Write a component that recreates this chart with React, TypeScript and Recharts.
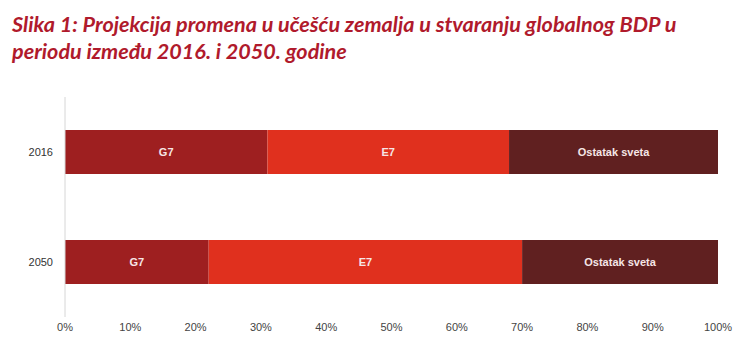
import React from 'react';
import { BarChart, Bar, XAxis, YAxis, LabelList } from 'recharts';

const years = ['2016', '2050'];
const g7 = [31, 22];
const e7 = [37, 48];
const ostatak = [32, 30];
const xTicks = [0, 0.1, 0.2, 0.3, 0.4, 0.5, 0.6, 0.7, 0.8, 0.9, 1];

const data = years.map((year, i) => {
    const total = g7[i] + e7[i] + ostatak[i];
    return {
        year,
        g7: g7[i] / total,
        e7: e7[i] / total,
        ostatak: ostatak[i] / total,
    };
});

const labelStyle = { fill: '#f6e6e6', fontSize: 11, fontWeight: 700, fontFamily: 'Liberation Sans, Arial, sans-serif' };

export default function App() {
    return (
        <div style={{ position: 'absolute', left: 0, top: 0, width: 750, height: 349, background: '#fff' }}>
            <style>{'body{margin:0}'}</style>
            {/* Title */}
            <div
                style={{
                    position: 'absolute',
                    left: 12,
                    top: 11,
                    width: 730,
                    color: '#b01a2c',
                    fontFamily: 'Lato, sans-serif',
                    fontStyle: 'italic',
                    fontWeight: 700,
                    fontSize: 21.6,
                    lineHeight: '27px',
                }}
            >
                Slika 1: Projekcija promena u učešću zemalja u stvaranju globalnog BDP u
                <br />
                periodu između 2016. i 2050. godine
            </div>

            {/* Chart */}
            <div style={{ position: 'absolute', left: 0, top: 90 }}>
                <BarChart
                    width={750}
                    height={257}
                    data={data}
                    layout="vertical"
                    margin={{ top: 7, right: 32, left: 0, bottom: 0 }}
                >
                    <XAxis
                        type="number"
                        domain={[0, 1]}
                        ticks={xTicks}
                        tickFormatter={(v: number) => `${Math.round(v * 100)}%`}
                        axisLine={false}
                        tickLine={false}
                        tickMargin={0}
                        height={30}
                        interval={0}
                        tick={{ fill: '#444', fontSize: 11, fontFamily: 'Liberation Sans, Arial, sans-serif' }}
                    />
                    <YAxis
                        type="category"
                        dataKey="year"
                        width={65}
                        axisLine={{ stroke: '#d6d6d6' }}
                        tickLine={false}
                        tickMargin={6}
                        tick={{ fill: '#333', fontSize: 11, fontFamily: 'Liberation Sans, Arial, sans-serif' }}
                    />
                    <Bar dataKey="g7" stackId="a" fill="#9e1f20" barSize={44} isAnimationActive={false}>
                        <LabelList dataKey="g7" position="center" formatter={() => 'G7'} style={labelStyle} />
                    </Bar>
                    <Bar dataKey="e7" stackId="a" fill="#e0301e" barSize={44} isAnimationActive={false}>
                        <LabelList dataKey="e7" position="center" formatter={() => 'E7'} style={labelStyle} />
                    </Bar>
                    <Bar dataKey="ostatak" stackId="a" fill="#602020" barSize={44} isAnimationActive={false}>
                        <LabelList dataKey="ostatak" position="center" formatter={() => 'Ostatak sveta'} style={labelStyle} />
                    </Bar>
                </BarChart>
            </div>
        </div>
    );
}
